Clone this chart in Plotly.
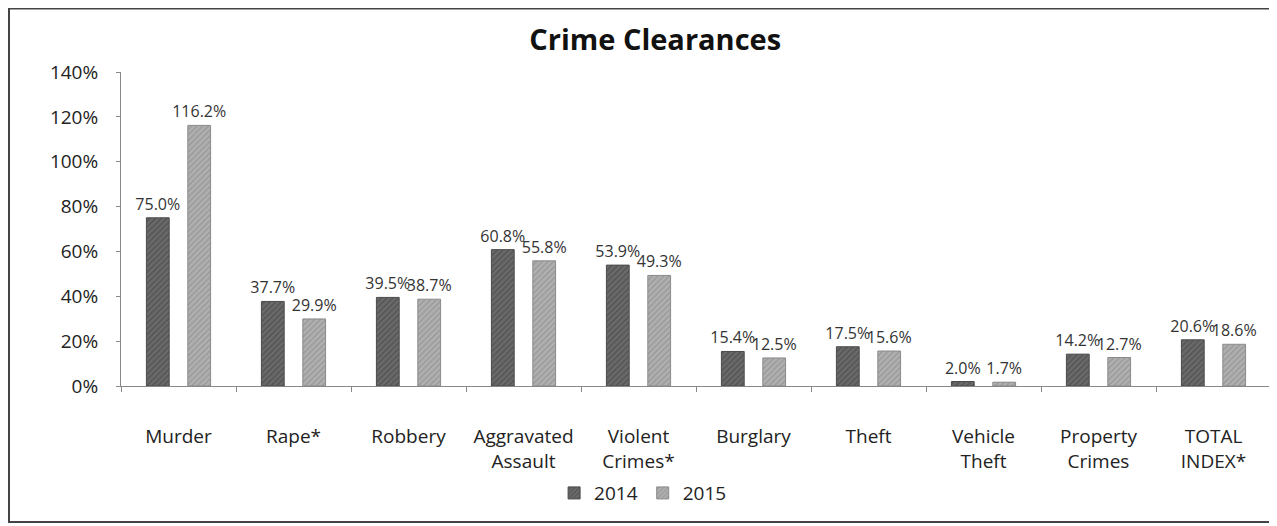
import plotly.graph_objects as go

categories = ["Murder", "Rape*", "Robbery", "Aggravated<br>Assault", "Violent<br>Crimes*",
              "Burglary", "Theft", "Vehicle<br>Theft", "Property<br>Crimes", "TOTAL<br>INDEX*"]
values_2014 = [75.0, 37.7, 39.5, 60.8, 53.9, 15.4, 17.5, 2.0, 14.2, 20.6]
values_2015 = [116.2, 29.9, 38.7, 55.8, 49.3, 12.5, 15.6, 1.7, 12.7, 18.6]
y_ticks = [0, 20, 40, 60, 80, 100, 120, 140]

font = "Open Sans, Lato, sans-serif"

fig = go.Figure()
fig.add_trace(go.Bar(
    name="2014", x=categories, y=values_2014,
    marker=dict(color="#5e5e5e", line=dict(color="#4a4a4a", width=1),
                pattern=dict(shape="/", fgcolor="#3a3a3a", bgcolor="#6a6a6a", size=4, solidity=0.35)),
    text=[f"{v:.1f}%" for v in values_2014], textposition="outside", constraintext="none",
    textfont=dict(size=16, color="#333333", family=font), cliponaxis=False,
))
fig.add_trace(go.Bar(
    name="2015", x=categories, y=values_2015,
    marker=dict(color="#a3a3a3", line=dict(color="#8a8a8a", width=1),
                pattern=dict(shape="/", fgcolor="#808080", bgcolor="#b0b0b0", size=4, solidity=0.35)),
    text=[f"{v:.1f}%" for v in values_2015], textposition="outside", constraintext="none",
    textfont=dict(size=16, color="#333333", family=font), cliponaxis=False,
))

fig.update_layout(
    width=1269, height=518,
    paper_bgcolor="white", plot_bgcolor="white",
    margin=dict(l=113, r=6, t=64, b=140),
    barmode="group", bargap=0.28, bargroupgap=0.45,
    title=dict(text="<b>Crime Clearances</b>", x=0.51, xanchor="center", y=0.938, yanchor="middle",
               font=dict(size=29, family=font, color="#111111")),
    font=dict(family=font, size=19, color="#222222"),
    legend=dict(orientation="h", x=0.454, xanchor="center", y=-0.341, yanchor="middle",
                font=dict(size=19, family=font), traceorder="normal"),
    shapes=[dict(type="rect", xref="paper", yref="paper",
                 x0=-0.0974, x1=1.0043, y0=-0.433, y1=1.202,
                 line=dict(color="#444444", width=2))],
)
fig.update_yaxes(range=[0, 140], tickvals=y_ticks, ticktext=[f"{t}%" for t in y_ticks],
                 showgrid=False, showline=True, linecolor="#888888", linewidth=1,
                 ticks="outside", ticklen=4, tickcolor="#888888", zeroline=False,
                 ticklabelstandoff=14, tickfont=dict(size=19, family=font, color="#222222"))
fig.update_xaxes(showline=True, linecolor="#888888", linewidth=1, ticks="outside",
                 ticklen=5, tickcolor="#888888", tickson="boundaries",
                 ticklabelstandoff=33, tickfont=dict(size=19, family=font, color="#222222"),
                 tickangle=0)

fig.write_html("out.html")
